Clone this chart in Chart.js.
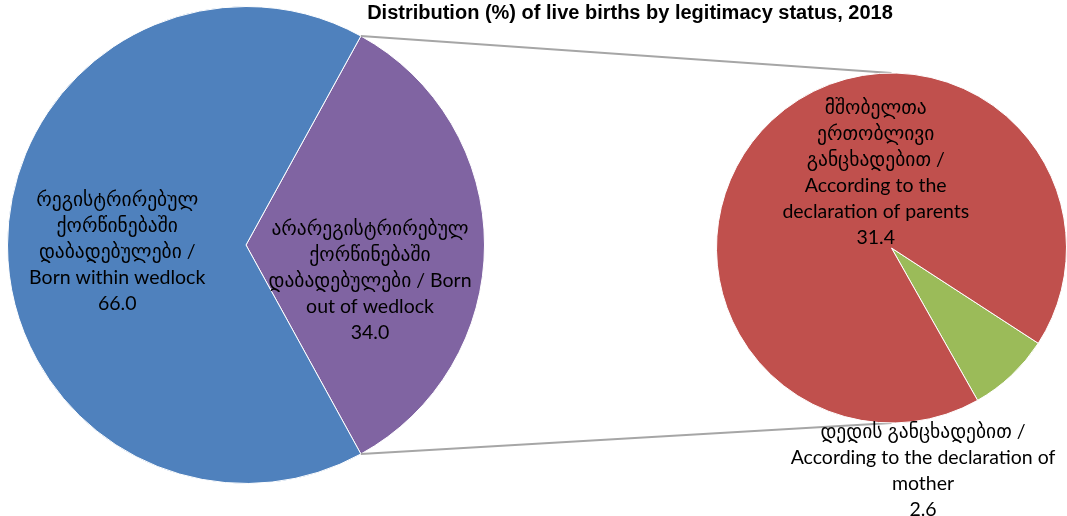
<!DOCTYPE html>
<html>
<head>
<meta charset="utf-8">
<script src="https://cdn.jsdelivr.net/npm/chart.js@4/dist/chart.umd.min.js"></script>
<style>
  html, body { margin: 0; padding: 0; background: #fff; }
  #wrap { position: relative; width: 1067px; height: 516px; overflow: hidden; }
  #wrap canvas { position: absolute; left: 0; top: 0; }
  #title {
    position: absolute; left: 630px; top: 1px; transform: translateX(-50%);
    white-space: nowrap; font: bold 20px 'Liberation Sans Narrow', 'Liberation Sans', Arial, sans-serif;
    color: #000;
  }
</style>
</head>
<body>
<div id="wrap">
  <canvas id="mainPie" width="1067" height="516"></canvas>
  <canvas id="subPie" width="1067" height="516"></canvas>
  <div id="title">Distribution (%) of live births by legitimacy status, 2018</div>
</div>
<script>
// main pie: out of wedlock first so it sits on the right
const mainLabels = [
  ['არარეგისტრირებულ', 'ქორწინებაში', 'დაბადებულები / Born', 'out of wedlock'],
  ['რეგისტრირებულ', 'ქორწინებაში', 'დაბადებულები /', 'Born within wedlock']
];
const mainValues = [34.0, 66.0];
const mainColors = ['#8064a2', '#4f81bd'];

// breakdown of the out-of-wedlock slice
const subLabels = [
  ['დედის განცხადებით /', 'According to the declaration of', 'mother'],
  ['მშობელთა', 'ერთობლივი', 'განცხადებით /', 'According to the', 'declaration of parents']
];
const subValues = [2.6, 31.4];
const subColors = ['#9bbb59', '#c0504d'];

const labelFont = "19.5px Lato, 'DejaVu Sans', sans-serif";
const lineH = 26;

// where each label block sits, in radius units from the pie centre
const mainLabelPos = [[0.52, 0.15], [-0.54, 0.03]];
const subLabelPos = [[0.18, 1.27], [-0.09, -0.43]];

function drawLabels(chart, labels, values, pos) {
  const ctx = chart.ctx;
  const arcs = chart.getDatasetMeta(0).data;
  ctx.save();
  ctx.font = labelFont;
  ctx.fillStyle = '#000';
  ctx.textAlign = 'center';
  ctx.textBaseline = 'middle';
  arcs.forEach((arc, i) => {
    const lines = labels[i].concat([values[i].toFixed(1)]);
    const cx = arc.x + pos[i][0] * arc.outerRadius;
    const cy = arc.y + pos[i][1] * arc.outerRadius;
    const y0 = cy - (lines.length - 1) * lineH / 2;
    lines.forEach((t, j) => ctx.fillText(t, cx, y0 + j * lineH));
  });
  ctx.restore();
}

const mainChart = new Chart(document.getElementById('mainPie'), {
  type: 'pie',
  data: {
    labels: mainLabels.map(l => l.join(' ')),
    datasets: [{ data: mainValues, backgroundColor: mainColors, borderColor: '#fff', borderWidth: 1 }]
  },
  options: {
    responsive: false,
    animation: false,
    rotation: 90 - mainValues[0] / (mainValues[0] + mainValues[1]) * 180,
    layout: { padding: { left: 7, top: 6, right: 582, bottom: 32 } },
    plugins: { legend: { display: false }, tooltip: { enabled: false } }
  },
  plugins: [{
    id: 'mainLabels',
    afterDraw(chart) { drawLabels(chart, mainLabels, mainValues, mainLabelPos); }
  }]
});

const subChart = new Chart(document.getElementById('subPie'), {
  type: 'pie',
  data: {
    labels: subLabels.map(l => l.join(' ')),
    datasets: [{ data: subValues, backgroundColor: subColors, borderColor: '#fff', borderWidth: 1 }]
  },
  options: {
    responsive: false,
    animation: false,
    rotation: 123,
    layout: { padding: { left: 716, top: 72, right: 0, bottom: 92 } },
    plugins: { legend: { display: false }, tooltip: { enabled: false } }
  },
  plugins: [{
    id: 'connectors',
    beforeDatasetsDraw(chart) {
      // join the edges of the split slice to the top and bottom of the small pie
      const big = mainChart.getDatasetMeta(0).data[0];
      const small = chart.getDatasetMeta(0).data[0];
      const ends = [big.startAngle, big.endAngle];
      const ctx = chart.ctx;
      ctx.save();
      ctx.strokeStyle = '#a6a6a6';
      ctx.lineWidth = 2;
      ends.forEach((a, k) => {
        const x1 = big.x + Math.cos(a) * big.outerRadius;
        const y1 = big.y + Math.sin(a) * big.outerRadius;
        const x2 = small.x;
        const y2 = small.y + (k === 0 ? -1 : 1) * small.outerRadius;
        ctx.beginPath();
        ctx.moveTo(x1, y1);
        ctx.lineTo(x2, y2);
        ctx.stroke();
      });
      ctx.restore();
    },
    afterDraw(chart) { drawLabels(chart, subLabels, subValues, subLabelPos); }
  }]
});
</script>
</body>
</html>
